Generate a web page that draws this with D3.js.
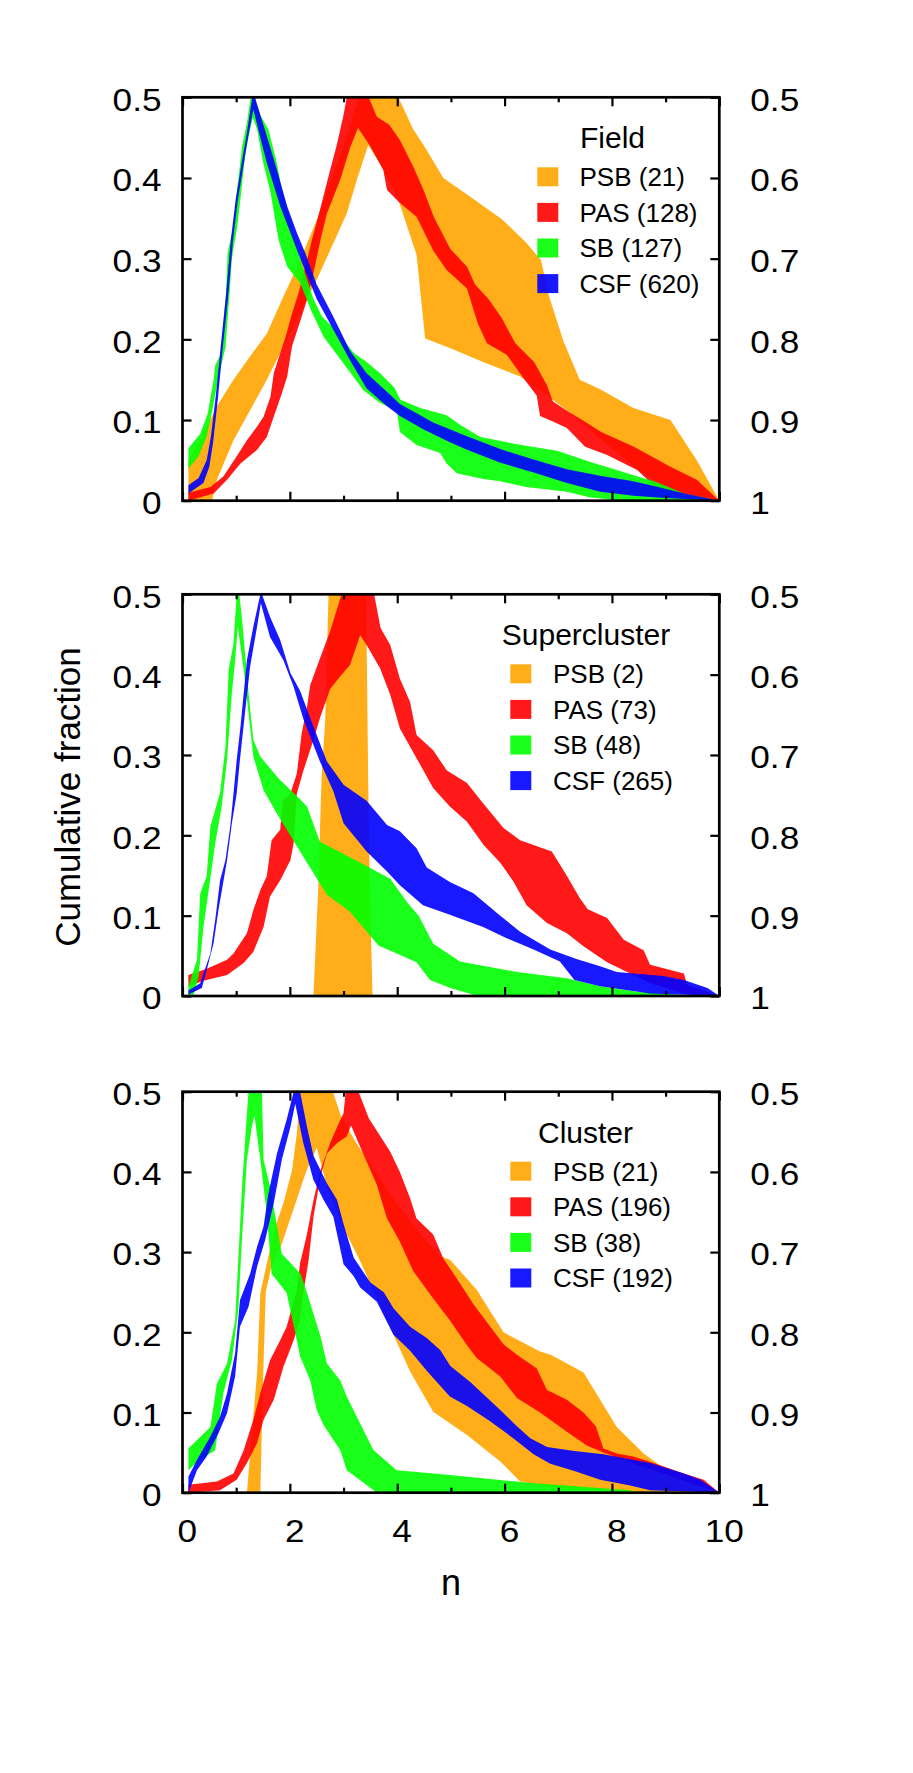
<!DOCTYPE html>
<html><head><meta charset="utf-8">
<script src="https://cdn.jsdelivr.net/npm/d3@7"></script>
<style>body{margin:0;background:#fff} text{font-family:"Liberation Sans",Arial,Helvetica,sans-serif;fill:#000}</style>
</head><body><svg id="c" width="913" height="1773"></svg>
<script>
// ---------- categories, colours, counts, ticks ----------
const categories = ['PSB','PAS','SB','CSF'];
const colors = ['#FFA500','#FF0000','#00FF00','#0000FF'];
const panelTitles = ['Field','Supercluster','Cluster'];
const fieldCounts = [21,128,127,620];
const superCounts = [2,73,48,265];
const clusterCounts = [21,196,38,192];
const yLeftTicks = [0,0.1,0.2,0.3,0.4,0.5];
const yLeftLabels = ['0','0.1','0.2','0.3','0.4','0.5'];
const yRightTicks = [1,0.9,0.8,0.7,0.6,0.5];
const yRightLabels = ['1','0.9','0.8','0.7','0.6','0.5'];
const xMajorTicks = [0,2,4,6,8,10];
const xMinorTicks = [1,3,5,7,9];

// ---------- Field ----------
const fieldPSBUpper = [[0.11,0.05],[0.33,0.075],[0.64,0.117],[0.95,0.15],[1.26,0.179],[1.57,0.207],[1.88,0.253],[2.19,0.298],[2.5,0.348],[2.81,0.406],[3.06,0.451],[3.28,0.5],[4.02,0.5],[4.3,0.46],[4.5,0.44],[4.86,0.4],[5.4,0.375],[5.95,0.349],[6.4,0.32],[6.68,0.298],[6.82,0.255],[7.1,0.197],[7.4,0.15],[7.78,0.138],[8.4,0.115],[9.09,0.1],[9.58,0.05],[10,0]];
const fieldPSBLower = [[0.11,0],[0.55,0],[0.64,0.026],[0.95,0.075],[1.26,0.112],[1.57,0.15],[1.88,0.191],[2.19,0.232],[2.5,0.274],[2.81,0.319],[3.06,0.356],[3.25,0.398],[3.46,0.441],[3.75,0.41],[4.02,0.373],[4.36,0.305],[4.52,0.201],[4.99,0.189],[5.6,0.172],[6.29,0.154],[6.7,0.135],[7.2,0.11],[7.9,0.07],[8.5,0.038],[8.8,0.025],[9.3,0.01],[10,0]];
const fieldPASUpper = [[0.11,0.01],[0.52,0.017],[0.76,0.03],[1.01,0.055],[1.2,0.075],[1.39,0.092],[1.51,0.104],[1.64,0.129],[1.7,0.158],[1.82,0.183],[1.92,0.203],[2.04,0.232],[2.16,0.257],[2.29,0.29],[2.41,0.323],[2.54,0.355],[2.75,0.41],[2.87,0.44],[3.0,0.478],[3.06,0.5],[3.47,0.5],[3.62,0.476],[3.85,0.466],[4.05,0.447],[4.3,0.414],[4.49,0.385],[4.68,0.352],[4.99,0.312],[5.3,0.29],[5.45,0.268],[5.7,0.25],[5.95,0.226],[6.2,0.195],[6.55,0.172],[6.79,0.143],[6.9,0.123],[7.2,0.11],[7.5,0.098],[7.8,0.085],[8.41,0.067],[9.09,0.042],[9.58,0.026],[10,0]];
const fieldPASLower = [[0.11,0],[0.58,0.009],[0.83,0.026],[1.08,0.046],[1.39,0.063],[1.57,0.079],[1.7,0.104],[1.85,0.133],[1.95,0.154],[2.04,0.191],[2.2,0.224],[2.32,0.249],[2.44,0.282],[2.57,0.323],[2.69,0.356],[2.94,0.398],[3.13,0.439],[3.27,0.462],[3.5,0.439],[3.74,0.41],[3.81,0.385],[4.05,0.369],[4.36,0.352],[4.67,0.31],[4.92,0.286],[5.3,0.263],[5.5,0.22],[5.67,0.195],[6.04,0.181],[6.35,0.152],[6.6,0.13],[6.66,0.105],[6.91,0.098],[7.16,0.09],[7.5,0.067],[7.9,0.057],[8.47,0.038],[8.81,0.017],[9.34,0.007],[10,0]];
const fieldSBUpper = [[0.11,0.065],[0.33,0.083],[0.47,0.108],[0.58,0.15],[0.61,0.168],[0.72,0.183],[0.81,0.257],[0.84,0.307],[0.95,0.34],[1.01,0.381],[1.11,0.439],[1.2,0.468],[1.27,0.5],[1.34,0.5],[1.45,0.478],[1.6,0.46],[1.76,0.418],[1.85,0.385],[2.01,0.348],[2.19,0.3],[2.44,0.25],[2.6,0.228],[2.85,0.212],[3.19,0.183],[3.43,0.172],[3.68,0.158],[3.95,0.14],[4.06,0.125],[4.43,0.115],[4.92,0.106],[5.17,0.094],[5.55,0.079],[6.23,0.07],[6.98,0.062],[7.6,0.048],[8.09,0.038],[8.48,0.03],[8.79,0.024],[9.34,0.009],[10,0]];
const fieldSBLower = [[0.11,0.04],[0.3,0.055],[0.45,0.08],[0.55,0.11],[0.66,0.15],[0.8,0.19],[0.88,0.26],[0.92,0.3],[1.02,0.34],[1.09,0.38],[1.17,0.43],[1.26,0.46],[1.31,0.475],[1.39,0.46],[1.5,0.42],[1.64,0.382],[1.79,0.323],[1.95,0.29],[2.19,0.27],[2.4,0.235],[2.63,0.203],[3.0,0.17],[3.37,0.137],[3.68,0.121],[3.99,0.112],[4.05,0.085],[4.36,0.069],[4.8,0.059],[4.92,0.046],[5.11,0.034],[5.6,0.027],[5.92,0.024],[6.4,0.017],[7.16,0.011],[7.6,0.004],[8.1,0.001],[10,0]];
const fieldCSFUpper = [[0.11,0.019],[0.3,0.028],[0.45,0.05],[0.53,0.08],[0.62,0.13],[0.71,0.19],[0.81,0.255],[0.9,0.323],[0.99,0.373],[1.09,0.414],[1.19,0.452],[1.3,0.5],[1.35,0.5],[1.39,0.491],[1.57,0.452],[1.76,0.41],[1.95,0.365],[2.13,0.332],[2.3,0.305],[2.5,0.268],[2.81,0.228],[3.12,0.186],[3.43,0.158],[3.81,0.135],[4.05,0.12],[4.43,0.106],[4.67,0.097],[5.3,0.08],[5.92,0.064],[6.54,0.051],[7.16,0.039],[7.78,0.031],[8.4,0.024],[8.8,0.018],[9.35,0.009],[10,0]];
const fieldCSFLower = [[0.11,0.009],[0.39,0.022],[0.5,0.042],[0.57,0.072],[0.66,0.127],[0.75,0.19],[0.85,0.252],[0.94,0.322],[1.03,0.372],[1.13,0.413],[1.22,0.45],[1.32,0.485],[1.45,0.45],[1.57,0.419],[1.82,0.365],[2.01,0.332],[2.2,0.299],[2.5,0.25],[2.81,0.212],[3.12,0.174],[3.43,0.139],[3.81,0.117],[4.05,0.105],[4.5,0.088],[4.99,0.072],[5.3,0.063],[5.92,0.047],[6.54,0.035],[7.16,0.022],[7.78,0.011],[8.4,0.006],[8.85,0.004],[9.35,0.002],[10,0]];

// ---------- Supercluster ----------
const superPSBUpper = [[2.44,0],[2.53,0.138],[2.59,0.271],[2.66,0.346],[2.72,0.5],[3.42,0.5],[3.46,0.263],[3.49,0.138],[3.54,0]];
const superPSBLower = [[2.44,0],[3.54,0]];
const superPASUpper = [[0.11,0.026],[0.45,0.034],[0.83,0.045],[0.95,0.053],[1.2,0.078],[1.32,0.107],[1.45,0.132],[1.57,0.149],[1.66,0.194],[1.82,0.207],[1.87,0.244],[2.01,0.252],[2.13,0.277],[2.22,0.327],[2.32,0.36],[2.38,0.387],[2.56,0.42],[2.75,0.454],[2.94,0.495],[2.97,0.5],[3.57,0.5],[3.69,0.458],[3.87,0.437],[4.05,0.395],[4.24,0.366],[4.36,0.325],[4.67,0.306],[4.92,0.281],[5.3,0.265],[5.55,0.244],[5.98,0.209],[6.29,0.194],[6.88,0.18],[7.14,0.152],[7.4,0.122],[7.55,0.108],[7.91,0.097],[8.22,0.07],[8.59,0.057],[8.71,0.039],[9.34,0.028],[9.4,0.014],[10,0]];
const superPASLower = [[0.11,0.012],[0.39,0.019],[0.83,0.026],[1.14,0.041],[1.32,0.055],[1.51,0.086],[1.63,0.124],[1.82,0.144],[2.01,0.169],[2.07,0.19],[2.13,0.252],[2.25,0.28],[2.44,0.319],[2.57,0.348],[2.75,0.382],[2.94,0.398],[3.12,0.412],[3.31,0.449],[3.43,0.437],[3.68,0.408],[3.87,0.375],[4.05,0.333],[4.36,0.296],[4.67,0.259],[4.98,0.236],[5.3,0.217],[5.61,0.188],[5.92,0.166],[6.17,0.142],[6.41,0.113],[6.79,0.091],[7.16,0.078],[7.47,0.062],[7.91,0.042],[8.71,0.016],[9.34,0.003],[10,0]];
const superSBUpper = [[0.11,0.012],[0.27,0.045],[0.33,0.128],[0.45,0.149],[0.52,0.211],[0.7,0.253],[0.8,0.31],[0.86,0.406],[0.95,0.439],[1.01,0.5],[1.06,0.5],[1.11,0.468],[1.23,0.377],[1.32,0.319],[1.45,0.298],[1.8,0.27],[2.19,0.245],[2.32,0.236],[2.56,0.192],[3.2,0.17],[3.87,0.146],[4.18,0.117],[4.4,0.1],[4.67,0.065],[5.17,0.043],[6.23,0.03],[7.16,0.022],[7.78,0.012],[8.5,0.005],[9.2,0.002],[10,0]];
const superSBLower = [[0.11,0],[0.2,0],[0.3,0.024],[0.39,0.086],[0.48,0.128],[0.61,0.19],[0.73,0.236],[0.83,0.294],[0.92,0.377],[0.98,0.418],[1.03,0.46],[1.14,0.406],[1.23,0.352],[1.32,0.298],[1.51,0.256],[1.76,0.227],[2.19,0.18],[2.69,0.126],[3.12,0.105],[3.65,0.063],[4.36,0.042],[4.61,0.02],[4.99,0.01],[5.5,0],[10,0]];
const superCSFUpper = [[0.11,0.007],[0.33,0.016],[0.39,0.028],[0.52,0.053],[0.61,0.095],[0.7,0.144],[0.8,0.169],[0.89,0.211],[0.95,0.252],[1.01,0.294],[1.08,0.335],[1.2,0.418],[1.32,0.46],[1.45,0.5],[1.48,0.5],[1.63,0.472],[1.82,0.443],[2.01,0.402],[2.19,0.38],[2.44,0.335],[2.69,0.292],[3.0,0.263],[3.43,0.243],[3.81,0.213],[4.05,0.205],[4.36,0.184],[4.55,0.16],[4.98,0.142],[5.42,0.128],[5.92,0.1],[6.29,0.08],[6.85,0.058],[7.34,0.046],[7.78,0.037],[8.09,0.03],[8.96,0.025],[9.34,0.02],[9.78,0.01],[10,0]];
const superCSFLower = [[0.11,0.002],[0.36,0.01],[0.45,0.032],[0.58,0.066],[0.67,0.107],[0.83,0.169],[0.92,0.215],[1.01,0.252],[1.07,0.294],[1.17,0.356],[1.26,0.41],[1.39,0.46],[1.46,0.489],[1.63,0.447],[1.88,0.418],[2.07,0.385],[2.25,0.345],[2.56,0.292],[2.81,0.255],[3.0,0.215],[3.43,0.18],[3.81,0.155],[4.05,0.138],[4.48,0.113],[4.98,0.101],[5.6,0.086],[6.04,0.072],[6.54,0.058],[7.03,0.043],[7.3,0.02],[7.78,0.012],[8.71,0.003],[10,0]];

// ---------- Cluster ----------
const clusterPSBUpper = [[1.2,0],[1.3,0.08],[1.39,0.15],[1.45,0.249],[1.57,0.286],[1.73,0.332],[1.88,0.361],[2.04,0.402],[2.13,0.448],[2.19,0.5],[2.8,0.5],[2.95,0.47],[3.2,0.44],[3.6,0.4],[4.0,0.36],[4.4,0.325],[4.8,0.295],[4.99,0.29],[5.48,0.253],[5.98,0.2],[6.66,0.176],[6.86,0.172],[7.47,0.15],[8.09,0.082],[8.59,0.049],[9.02,0.028],[9.5,0.012],[10,0]];
const clusterPSBLower = [[1.2,0],[1.45,0],[1.5,0.14],[1.55,0.25],[1.65,0.28],[1.85,0.31],[2.05,0.35],[2.3,0.4],[2.5,0.43],[2.7,0.38],[3.0,0.33],[3.3,0.29],[3.62,0.242],[3.99,0.188],[4.24,0.151],[4.67,0.101],[5.3,0.072],[5.92,0.039],[6.29,0.014],[7.0,0.006],[8.4,0.001],[10,0]];
const clusterPASUpper = [[0.11,0.01],[0.64,0.014],[0.95,0.024],[1.14,0.053],[1.32,0.091],[1.45,0.124],[1.63,0.165],[1.82,0.19],[1.94,0.207],[2.13,0.253],[2.19,0.286],[2.32,0.323],[2.44,0.365],[2.57,0.402],[2.75,0.436],[2.88,0.456],[3.0,0.473],[3.04,0.5],[3.28,0.5],[3.47,0.467],[3.87,0.425],[4.05,0.4],[4.24,0.367],[4.36,0.342],[4.67,0.322],[4.86,0.292],[5.11,0.267],[5.42,0.235],[5.7,0.21],[5.98,0.185],[6.23,0.172],[6.6,0.155],[6.79,0.128],[7.16,0.116],[7.47,0.1],[7.7,0.083],[7.84,0.055],[8.09,0.049],[8.4,0.045],[8.78,0.037],[9.34,0.024],[9.71,0.016],[10,0]];
const clusterPASLower = [[0.11,0],[0.7,0.003],[1.01,0.016],[1.2,0.037],[1.39,0.062],[1.51,0.091],[1.7,0.116],[1.88,0.157],[2.07,0.19],[2.19,0.215],[2.25,0.249],[2.35,0.29],[2.44,0.344],[2.57,0.394],[2.69,0.423],[2.88,0.436],[3.06,0.444],[3.14,0.458],[3.35,0.425],[3.62,0.384],[3.81,0.342],[4.05,0.313],[4.3,0.276],[4.67,0.242],[4.98,0.215],[5.3,0.184],[5.48,0.168],[5.92,0.145],[6.23,0.118],[6.66,0.1],[7.16,0.076],[7.53,0.059],[7.84,0.05],[8.4,0.036],[8.78,0.028],[9.34,0.015],[10,0]];
const clusterSBUpper = [[0.11,0.055],[0.52,0.082],[0.64,0.136],[0.83,0.161],[0.98,0.215],[1.11,0.382],[1.2,0.473],[1.23,0.5],[1.48,0.5],[1.51,0.415],[1.63,0.382],[1.85,0.298],[2.2,0.273],[2.32,0.249],[2.57,0.195],[2.69,0.161],[2.94,0.14],[3.06,0.12],[3.43,0.07],[3.56,0.053],[3.99,0.028],[4.99,0.022],[6.5,0.012],[8.34,0.003],[8.47,0],[10,0]];
const clusterSBLower = [[0.11,0.028],[0.3,0.04],[0.61,0.053],[0.76,0.124],[0.92,0.165],[1.04,0.228],[1.1,0.307],[1.2,0.415],[1.29,0.456],[1.34,0.47],[1.45,0.415],[1.57,0.348],[1.66,0.273],[1.94,0.249],[2.13,0.19],[2.19,0.17],[2.38,0.14],[2.5,0.103],[2.63,0.084],[2.75,0.072],[2.94,0.053],[3.06,0.028],[3.56,0.003],[3.62,0],[10,0]];
const clusterCSFUpper = [[0.11,0.02],[0.27,0.041],[0.52,0.07],[0.7,0.095],[0.83,0.124],[0.98,0.174],[1.07,0.24],[1.26,0.273],[1.39,0.307],[1.51,0.332],[1.6,0.373],[1.76,0.423],[1.94,0.465],[2.07,0.5],[2.19,0.5],[2.32,0.456],[2.44,0.42],[2.69,0.386],[2.88,0.365],[3.0,0.335],[3.19,0.293],[3.5,0.262],[3.75,0.25],[3.93,0.23],[4.24,0.207],[4.55,0.193],[4.8,0.178],[4.99,0.158],[5.36,0.138],[5.73,0.115],[5.92,0.103],[6.23,0.083],[6.48,0.068],[6.79,0.057],[7.3,0.052],[7.84,0.048],[8.71,0.037],[9.34,0.024],[9.65,0.016],[10,0]];
const clusterCSFLower = [[0.11,0],[0.27,0.028],[0.45,0.045],[0.67,0.074],[0.83,0.099],[0.98,0.145],[1.07,0.207],[1.23,0.232],[1.39,0.282],[1.54,0.315],[1.7,0.361],[1.85,0.415],[2.01,0.456],[2.1,0.485],[2.25,0.436],[2.44,0.39],[2.63,0.365],[2.81,0.344],[3.0,0.285],[3.19,0.27],[3.31,0.256],[3.62,0.238],[3.93,0.197],[4.24,0.177],[4.55,0.152],[4.98,0.12],[5.3,0.108],[5.73,0.089],[6.16,0.068],[6.54,0.048],[6.85,0.036],[7.3,0.027],[7.78,0.016],[8.34,0.009],[8.71,0.003],[10,0]];

// ---------- layout ----------
const svg = d3.select('#c');
svg.append('rect').attr('width',913).attr('height',1773).attr('fill','#fff');
const X0 = 182.5, X1 = 719.3;
const x = d3.scaleLinear().domain([0,10]).range([X0,X1]);

const panels = [
  {title: panelTitles[0], top: 97.3, bottom: 500.7, counts: fieldCounts,
   bands: [[fieldPSBUpper,fieldPSBLower],[fieldPASUpper,fieldPASLower],[fieldSBUpper,fieldSBLower],[fieldCSFUpper,fieldCSFLower]],
   swX: 537.3, txX: 579.5, tiX: 612.5, xLabels: false},
  {title: panelTitles[1], top: 594.3, bottom: 996, counts: superCounts,
   bands: [[superPSBUpper,superPSBLower],[superPASUpper,superPASLower],[superSBUpper,superSBLower],[superCSFUpper,superCSFLower]],
   swX: 510.3, txX: 553, tiX: 586, xLabels: false},
  {title: panelTitles[2], top: 1091.7, bottom: 1492.7, counts: clusterCounts,
   bands: [[clusterPSBUpper,clusterPSBLower],[clusterPASUpper,clusterPASLower],[clusterSBUpper,clusterSBLower],[clusterCSFUpper,clusterCSFLower]],
   swX: 510.3, txX: 553, tiX: 585.5, xLabels: true}
];

// widen tick-label glyphs slightly (the original font is wider than Liberation Sans)
const widen = sel => sel.selectAll('.tick text').each(function () {
  const t = d3.select(this);
  const tx = +t.attr('x') || 0, ty = +t.attr('y') || 0;
  t.attr('x', 0).attr('y', 0).attr('transform', `translate(${tx},${ty}) scale(1.1,1)`);
});

panels.forEach((p, pi) => {
  const y = d3.scaleLinear().domain([0,0.5]).range([p.bottom, p.top]);
  const yR = d3.scaleLinear().domain([1,0.5]).range([p.bottom, p.top]);
  const g = svg.append('g');
  const clipId = 'clip' + pi;
  g.append('clipPath').attr('id', clipId).append('rect')
    .attr('x', X0).attr('y', p.top).attr('width', X1 - X0).attr('height', p.bottom - p.top);
  const line = d3.line().x(d => x(d[0])).y(d => y(d[1]));
  const bandG = g.append('g').attr('clip-path', `url(#${clipId})`);
  p.bands.forEach((b, i) => {
    const pts = b[0].concat(b[1].slice().reverse());
    bandG.append('path').attr('d', line(pts) + 'Z')
      .attr('fill', colors[i]).attr('fill-opacity', 0.9).attr('stroke', 'none');
  });

  const styleAxis = sel => {
    sel.select('.domain').remove();
    sel.selectAll('.tick line').attr('stroke', '#000').attr('stroke-width', 2.2);
    sel.selectAll('.tick text').attr('font-size', 32).attr('fill', '#000')
      .style('font-family', '"Liberation Sans", Arial, sans-serif');
  };
  // left axis
  g.append('g').attr('transform', `translate(${X0},0)`)
    .call(d3.axisLeft(y).tickValues(yLeftTicks).tickSize(-9).tickSizeOuter(0).tickPadding(21)
      .tickFormat((d, i) => yLeftLabels[i]))
    .call(styleAxis)
    .call(s => s.selectAll('.tick text').attr('dy', '0.4em'))
    .call(widen);
  // right axis
  g.append('g').attr('transform', `translate(${X1},0)`)
    .call(d3.axisRight(yR).tickValues(yRightTicks).tickSize(-9).tickSizeOuter(0).tickPadding(31)
      .tickFormat((d, i) => yRightLabels[i]))
    .call(styleAxis)
    .call(s => s.selectAll('.tick text').attr('dy', '0.4em'))
    .call(widen);
  // bottom major
  g.append('g').attr('transform', `translate(0,${p.bottom})`)
    .call(d3.axisBottom(x).tickValues(xMajorTicks).tickSize(-9).tickSizeOuter(0).tickPadding(27)
      .tickFormat(p.xLabels ? d3.format('d') : () => ''))
    .call(styleAxis)
    .call(s => s.selectAll('.tick text').attr('dx', 4))
    .call(widen);
  // bottom minor
  g.append('g').attr('transform', `translate(0,${p.bottom})`)
    .call(d3.axisBottom(x).tickValues(xMinorTicks).tickSize(-5).tickSizeOuter(0).tickFormat(() => ''))
    .call(styleAxis);
  // top major / minor
  g.append('g').attr('transform', `translate(0,${p.top})`)
    .call(d3.axisTop(x).tickValues(xMajorTicks).tickSize(-9).tickSizeOuter(0).tickFormat(() => ''))
    .call(styleAxis);
  g.append('g').attr('transform', `translate(0,${p.top})`)
    .call(d3.axisTop(x).tickValues(xMinorTicks).tickSize(-5).tickSizeOuter(0).tickFormat(() => ''))
    .call(styleAxis);

  // frame
  g.append('rect').attr('x', X0).attr('y', p.top).attr('width', X1 - X0).attr('height', p.bottom - p.top)
    .attr('fill', 'none').attr('stroke', '#000').attr('stroke-width', 2.7);

  // legend
  g.append('text').attr('x', p.tiX).attr('y', p.top + 51).attr('text-anchor', 'middle')
    .attr('font-size', 30).text(p.title);
  categories.forEach((c, i) => {
    const cy = p.top + 79.5 + 35.6 * i;
    g.append('rect').attr('x', p.swX).attr('y', cy - 9.5).attr('width', 21).attr('height', 19)
      .attr('fill', colors[i]).attr('fill-opacity', 0.9);
    g.append('text').attr('x', p.txX).attr('y', cy + 9.4).attr('font-size', 26)
      .text(`${c} (${p.counts[i]})`);
  });
});

// axis titles
svg.append('text').attr('transform', 'translate(80,797) rotate(-90)').attr('text-anchor', 'middle')
  .attr('font-size', 35).text('Cumulative fraction');
svg.append('text').attr('x', 451).attr('y', 1595).attr('text-anchor', 'middle')
  .attr('font-size', 36).text('n');
</script></body></html>
